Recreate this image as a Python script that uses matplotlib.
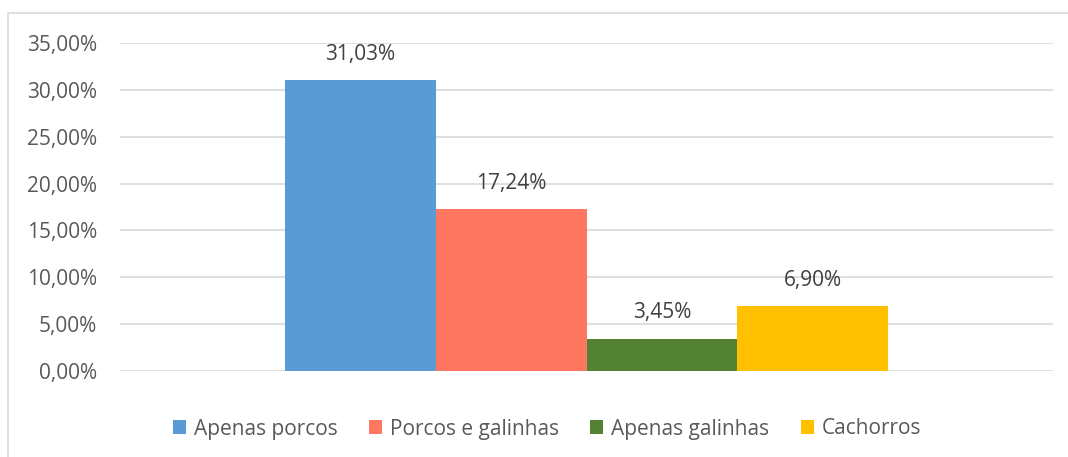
import matplotlib
matplotlib.use('Agg')
import matplotlib.pyplot as plt
from matplotlib.patches import Rectangle
from matplotlib.ticker import FuncFormatter

categories = ['Apenas porcos', 'Porcos e galinhas', 'Apenas galinhas', 'Cachorros']
values = [0.3103, 0.1724, 0.0345, 0.0690]
colors = ['#5B9BD5', '#FF7661', '#548235', '#FFC000']
yticks = [0, 0.05, 0.10, 0.15, 0.20, 0.25, 0.30, 0.35]

plt.rcParams['font.family'] = ['Open Sans', 'DejaVu Sans']
txt = '#595959'

fig = plt.figure(figsize=(10.68, 4.57), dpi=100)
fig.patches.append(Rectangle((8/1068, -0.1), 1.2, 1 - 13/457 + 0.1, transform=fig.transFigure,
                             fill=False, edgecolor='#D9D9D9', linewidth=1.2))
ax = fig.add_axes([120/1068, 1 - 371/457, (1053 - 120)/1068, (371 - 43)/457])

w = 0.2
n = len(values)
for i, (cat, v, c) in enumerate(zip(categories, values, colors)):
    x = (i - (n - 1) / 2) * w
    ax.bar(x, v, width=w, color=c, label=cat, zorder=3)
    ax.text(x, v + 0.0165, f'{v*100:.2f}%'.replace('.', ','), ha='center', va='bottom',
            fontsize=15, color='#404040')

ax.set_xlim(-0.618, 0.618)
ax.set_ylim(0, 0.35)
ax.set_yticks(yticks)
ax.yaxis.set_major_formatter(FuncFormatter(lambda v, p: f'{v*100:.2f}%'.replace('.', ',')))
ax.set_xticks([])
ax.grid(axis='y', color='#D9D9D9', linewidth=1.2, zorder=0)
for s in ax.spines.values():
    s.set_visible(False)
ax.tick_params(axis='y', length=0, labelsize=15, labelcolor=txt, pad=16.5)

leg = fig.legend(loc='center', bbox_to_anchor=(547/1068, 1 - 429/457), ncol=4, frameon=False,
                 fontsize=15, handlelength=0.625, handleheight=0.625, columnspacing=1.5,
                 handletextpad=0.38)
for t in leg.get_texts():
    t.set_color(txt)

fig.savefig('out.png', dpi=100)
